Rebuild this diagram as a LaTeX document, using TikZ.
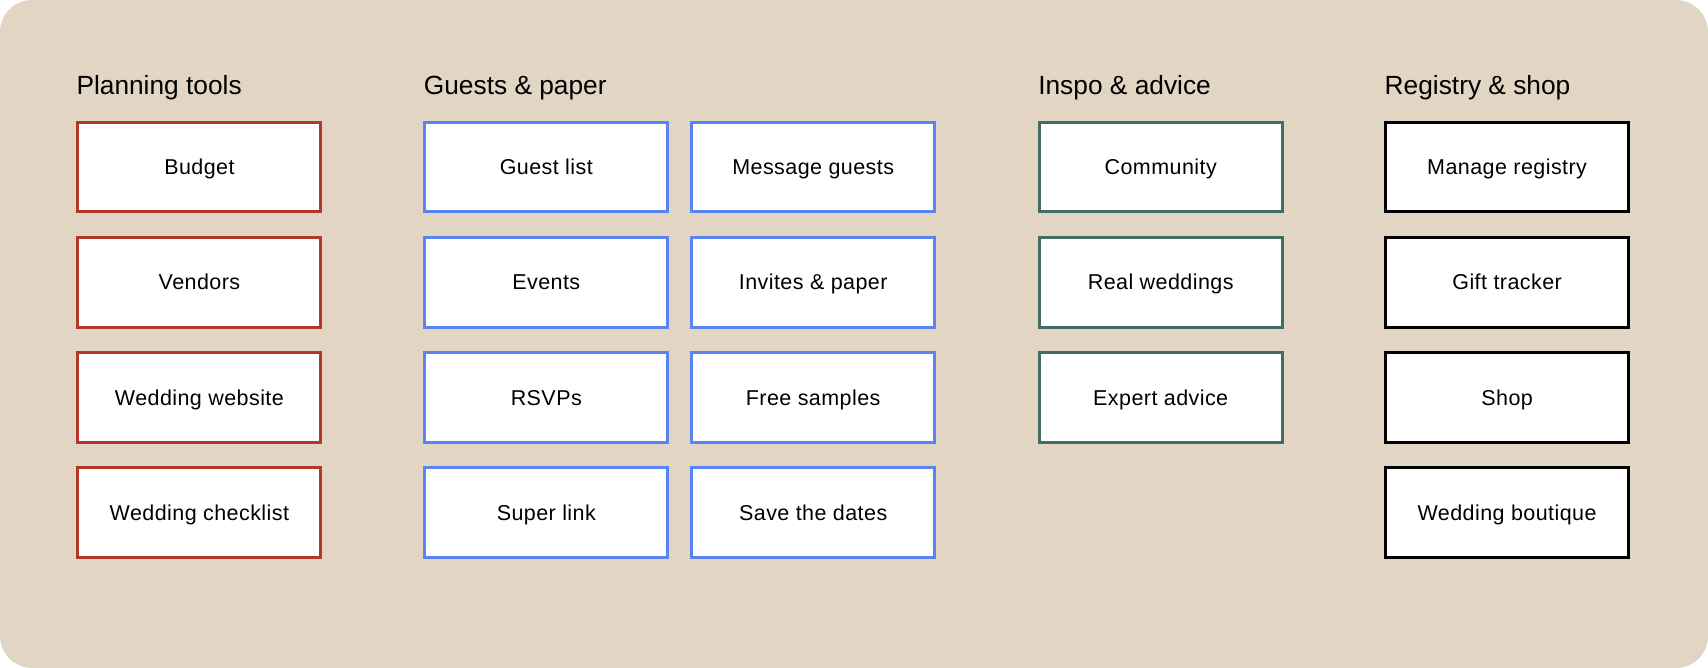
\documentclass[tikz,border=0pt]{standalone}
\usepackage{fontspec}
\setmainfont{Liberation Sans}
\newfontfamily\itemfont[LetterSpace=2]{Liberation Sans}
\definecolor{panelbg}{HTML}{E3D5C3}
\definecolor{planred}{HTML}{B4372B}
\definecolor{guestblue}{HTML}{5A84F2}
\definecolor{inspogreen}{HTML}{3F6D62}
\begin{document}
\begin{tikzpicture}[x=1pt,y=-1pt,
  item/.style={draw, fill=white, line width=3pt, minimum width=243pt,
    minimum height=89.6pt, inner sep=0pt,
    font=\itemfont\fontsize{21.5}{24}\selectfont, text height=15.4pt, text depth=0pt},
  plan/.style={item, draw=planred},
  guest/.style={item, draw=guestblue},
  inspo/.style={item, draw=inspogreen},
  shop/.style={item, draw=black},
  heading/.style={anchor=base west, inner sep=0pt, font=\fontsize{26.3}{30}\selectfont}]
\useasboundingbox (0,0) rectangle (1708,668);
\fill[white] (0,0) rectangle (1708,668);
\fill[panelbg, rounded corners=32pt] (0,0) rectangle (1708,668);

% column headings
\node[heading] (hplan)  at (76.3,95)   {Planning tools};
\node[heading] (hguest) at (423.7,95)  {Guests \& paper};
\node[heading] (hinspo) at (1038.1,95) {Inspo \& advice};
\node[heading] (hshop)  at (1384.5,95) {Registry \& shop};

% planning tools
\node[plan] (budget)    at (199.4,167.2) {Budget};
\node[plan] (vendors)   at (199.4,282.3) {Vendors};
\node[plan] (website)   at (199.4,397.4) {Wedding website};
\node[plan] (checklist) at (199.4,512.5) {Wedding checklist};

% guests & paper
\node[guest] (guestlist) at (546.3,167.2) {Guest list};
\node[guest] (events)    at (546.3,282.3) {Events};
\node[guest] (rsvps)     at (546.3,397.4) {RSVPs};
\node[guest] (superlink) at (546.3,512.5) {Super link};
\node[guest] (message)   at (813.2,167.2) {Message guests};
\node[guest] (invites)   at (813.2,282.3) {Invites \& paper};
\node[guest] (samples)   at (813.2,397.4) {Free samples};
\node[guest] (savedates) at (813.2,512.5) {Save the dates};

% inspo & advice
\node[inspo] (community) at (1160.7,167.2) {Community};
\node[inspo] (real)      at (1160.7,282.3) {Real weddings};
\node[inspo] (expert)    at (1160.7,397.4) {Expert advice};

% registry & shop
\node[shop] (registry) at (1507.1,167.2) {Manage registry};
\node[shop] (gifts)    at (1507.1,282.3) {Gift tracker};
\node[shop] (shopbox)  at (1507.1,397.4) {Shop};
\node[shop] (boutique) at (1507.1,512.5) {Wedding boutique};
\end{tikzpicture}
\end{document}
